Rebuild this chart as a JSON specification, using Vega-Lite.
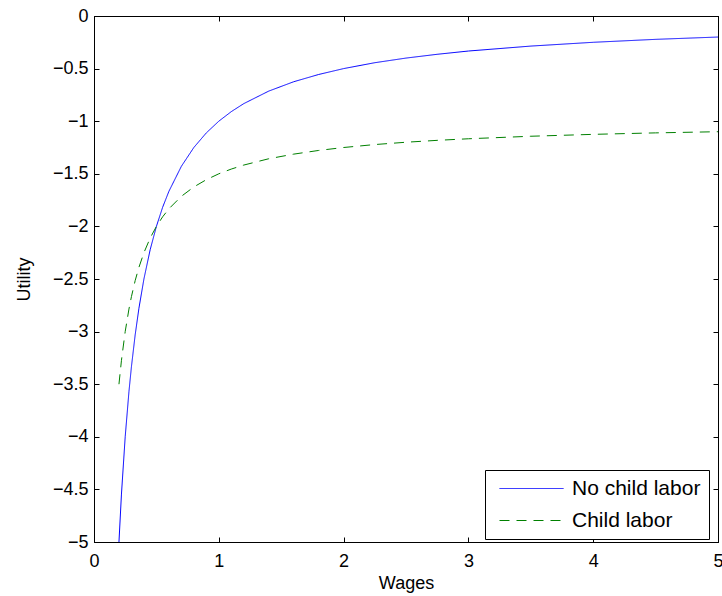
{
  "$schema": "https://vega.github.io/schema/vega-lite/v6.json",
  "width": 624,
  "height": 526,
  "autosize": "none",
  "padding": {"left": 94, "top": 16, "right": 4, "bottom": 54},
  "background": "white",
  "config": {
    "font": "Liberation Sans",
    "view": {"stroke": "black", "strokeWidth": 1},
    "axis": {
      "grid": false,
      "domainColor": "black",
      "tickColor": "black",
      "labelColor": "black",
      "titleColor": "black",
      "labelFont": "Liberation Sans",
      "titleFont": "Liberation Sans",
      "labelFontSize": 18,
      "titleFontSize": 18,
      "titleFontWeight": "normal",
      "tickSize": -5,
      "labelFlush": false,
      "labelOverlap": false
    },
    "legend": {
      "labelFont": "Liberation Sans",
      "labelFontSize": 21,
      "labelColor": "black",
      "strokeColor": "black",
      "fillColor": "white",
      "padding": 8,
      "cornerRadius": 0,
      "symbolType": "M-3.2,0H3.2",
      "symbolSize": 400,
      "symbolStrokeWidth": 1,
      "symbolOffset": 28,
      "labelOffset": 30,
      "rowPadding": 10
    }
  },
  "datasets": {
    "curves": [
      {"w": 0.2, "u": -5.0, "series": "No child labor"},
      {"w": 0.22, "u": -4.545, "series": "No child labor"},
      {"w": 0.25, "u": -4.0, "series": "No child labor"},
      {"w": 0.28, "u": -3.571, "series": "No child labor"},
      {"w": 0.3, "u": -3.333, "series": "No child labor"},
      {"w": 0.33, "u": -3.03, "series": "No child labor"},
      {"w": 0.36, "u": -2.778, "series": "No child labor"},
      {"w": 0.4, "u": -2.5, "series": "No child labor"},
      {"w": 0.45, "u": -2.222, "series": "No child labor"},
      {"w": 0.5, "u": -2.0, "series": "No child labor"},
      {"w": 0.55, "u": -1.818, "series": "No child labor"},
      {"w": 0.6, "u": -1.667, "series": "No child labor"},
      {"w": 0.7, "u": -1.429, "series": "No child labor"},
      {"w": 0.8, "u": -1.25, "series": "No child labor"},
      {"w": 0.9, "u": -1.111, "series": "No child labor"},
      {"w": 1.0, "u": -1.0, "series": "No child labor"},
      {"w": 1.1, "u": -0.909, "series": "No child labor"},
      {"w": 1.2, "u": -0.833, "series": "No child labor"},
      {"w": 1.4, "u": -0.714, "series": "No child labor"},
      {"w": 1.6, "u": -0.625, "series": "No child labor"},
      {"w": 1.8, "u": -0.556, "series": "No child labor"},
      {"w": 2.0, "u": -0.5, "series": "No child labor"},
      {"w": 2.25, "u": -0.444, "series": "No child labor"},
      {"w": 2.5, "u": -0.4, "series": "No child labor"},
      {"w": 2.75, "u": -0.364, "series": "No child labor"},
      {"w": 3.0, "u": -0.333, "series": "No child labor"},
      {"w": 3.5, "u": -0.286, "series": "No child labor"},
      {"w": 4.0, "u": -0.25, "series": "No child labor"},
      {"w": 4.5, "u": -0.222, "series": "No child labor"},
      {"w": 5.0, "u": -0.2, "series": "No child labor"},
      {"w": 0.2, "u": -3.5, "series": "Child labor"},
      {"w": 0.22, "u": -3.273, "series": "Child labor"},
      {"w": 0.25, "u": -3.0, "series": "Child labor"},
      {"w": 0.28, "u": -2.786, "series": "Child labor"},
      {"w": 0.3, "u": -2.667, "series": "Child labor"},
      {"w": 0.33, "u": -2.515, "series": "Child labor"},
      {"w": 0.36, "u": -2.389, "series": "Child labor"},
      {"w": 0.4, "u": -2.25, "series": "Child labor"},
      {"w": 0.45, "u": -2.111, "series": "Child labor"},
      {"w": 0.5, "u": -2.0, "series": "Child labor"},
      {"w": 0.55, "u": -1.909, "series": "Child labor"},
      {"w": 0.6, "u": -1.833, "series": "Child labor"},
      {"w": 0.7, "u": -1.714, "series": "Child labor"},
      {"w": 0.8, "u": -1.625, "series": "Child labor"},
      {"w": 0.9, "u": -1.556, "series": "Child labor"},
      {"w": 1.0, "u": -1.5, "series": "Child labor"},
      {"w": 1.1, "u": -1.455, "series": "Child labor"},
      {"w": 1.2, "u": -1.417, "series": "Child labor"},
      {"w": 1.4, "u": -1.357, "series": "Child labor"},
      {"w": 1.6, "u": -1.313, "series": "Child labor"},
      {"w": 1.8, "u": -1.278, "series": "Child labor"},
      {"w": 2.0, "u": -1.25, "series": "Child labor"},
      {"w": 2.25, "u": -1.222, "series": "Child labor"},
      {"w": 2.5, "u": -1.2, "series": "Child labor"},
      {"w": 2.75, "u": -1.182, "series": "Child labor"},
      {"w": 3.0, "u": -1.167, "series": "Child labor"},
      {"w": 3.5, "u": -1.143, "series": "Child labor"},
      {"w": 4.0, "u": -1.125, "series": "Child labor"},
      {"w": 4.5, "u": -1.111, "series": "Child labor"},
      {"w": 5.0, "u": -1.1, "series": "Child labor"}
    ]
  },
  "data": {"name": "curves"},
  "resolve": {"axis": {"x": "independent", "y": "independent"}},
  "layer": [
    {
      "transform": [{"filter": "datum.series === 'No child labor'"}],
      "mark": {"type": "line", "strokeWidth": 1, "clip": true},
      "encoding": {
        "x": {
          "field": "w", "type": "quantitative",
          "scale": {"domain": [0, 5], "nice": false, "zero": false},
          "axis": {"orient": "bottom", "values": [0, 1, 2, 3, 4, 5], "format": "~g", "title": "Wages", "labelPadding": 15, "titlePadding": 4}
        },
        "y": {
          "field": "u", "type": "quantitative",
          "scale": {"domain": [-5, 0], "nice": false, "zero": false},
          "axis": {"orient": "left", "values": [-5, -4.5, -4, -3.5, -3, -2.5, -2, -1.5, -1, -0.5, 0], "format": "~g", "title": "Utility", "labelPadding": 11, "titlePadding": 19}
        },
        "color": {
          "field": "series", "type": "nominal",
          "scale": {"domain": ["No child labor", "Child labor"], "range": ["#0000ff", "#008000"]},
          "legend": {"orient": "none", "legendX": 391, "legendY": 454, "title": null}
        },
        "strokeDash": {
          "field": "series", "type": "nominal",
          "scale": {"domain": ["No child labor", "Child labor"], "range": [[1, 0], [10, 7]]},
          "legend": {"orient": "none", "legendX": 391, "legendY": 454, "title": null}
        }
      }
    },
    {
      "transform": [{"filter": "datum.series === 'Child labor'"}],
      "mark": {"type": "line", "strokeWidth": 1, "clip": true},
      "encoding": {
        "x": {
          "field": "w", "type": "quantitative",
          "axis": {"orient": "top", "values": [0, 1, 2, 3, 4, 5], "labels": false, "title": null}
        },
        "y": {
          "field": "u", "type": "quantitative",
          "axis": {"orient": "right", "values": [-5, -4.5, -4, -3.5, -3, -2.5, -2, -1.5, -1, -0.5, 0], "labels": false, "title": null}
        },
        "color": {
          "field": "series", "type": "nominal",
          "legend": {"orient": "none", "legendX": 391, "legendY": 454, "title": null}
        },
        "strokeDash": {
          "field": "series", "type": "nominal",
          "legend": {"orient": "none", "legendX": 391, "legendY": 454, "title": null}
        }
      }
    }
  ]
}
